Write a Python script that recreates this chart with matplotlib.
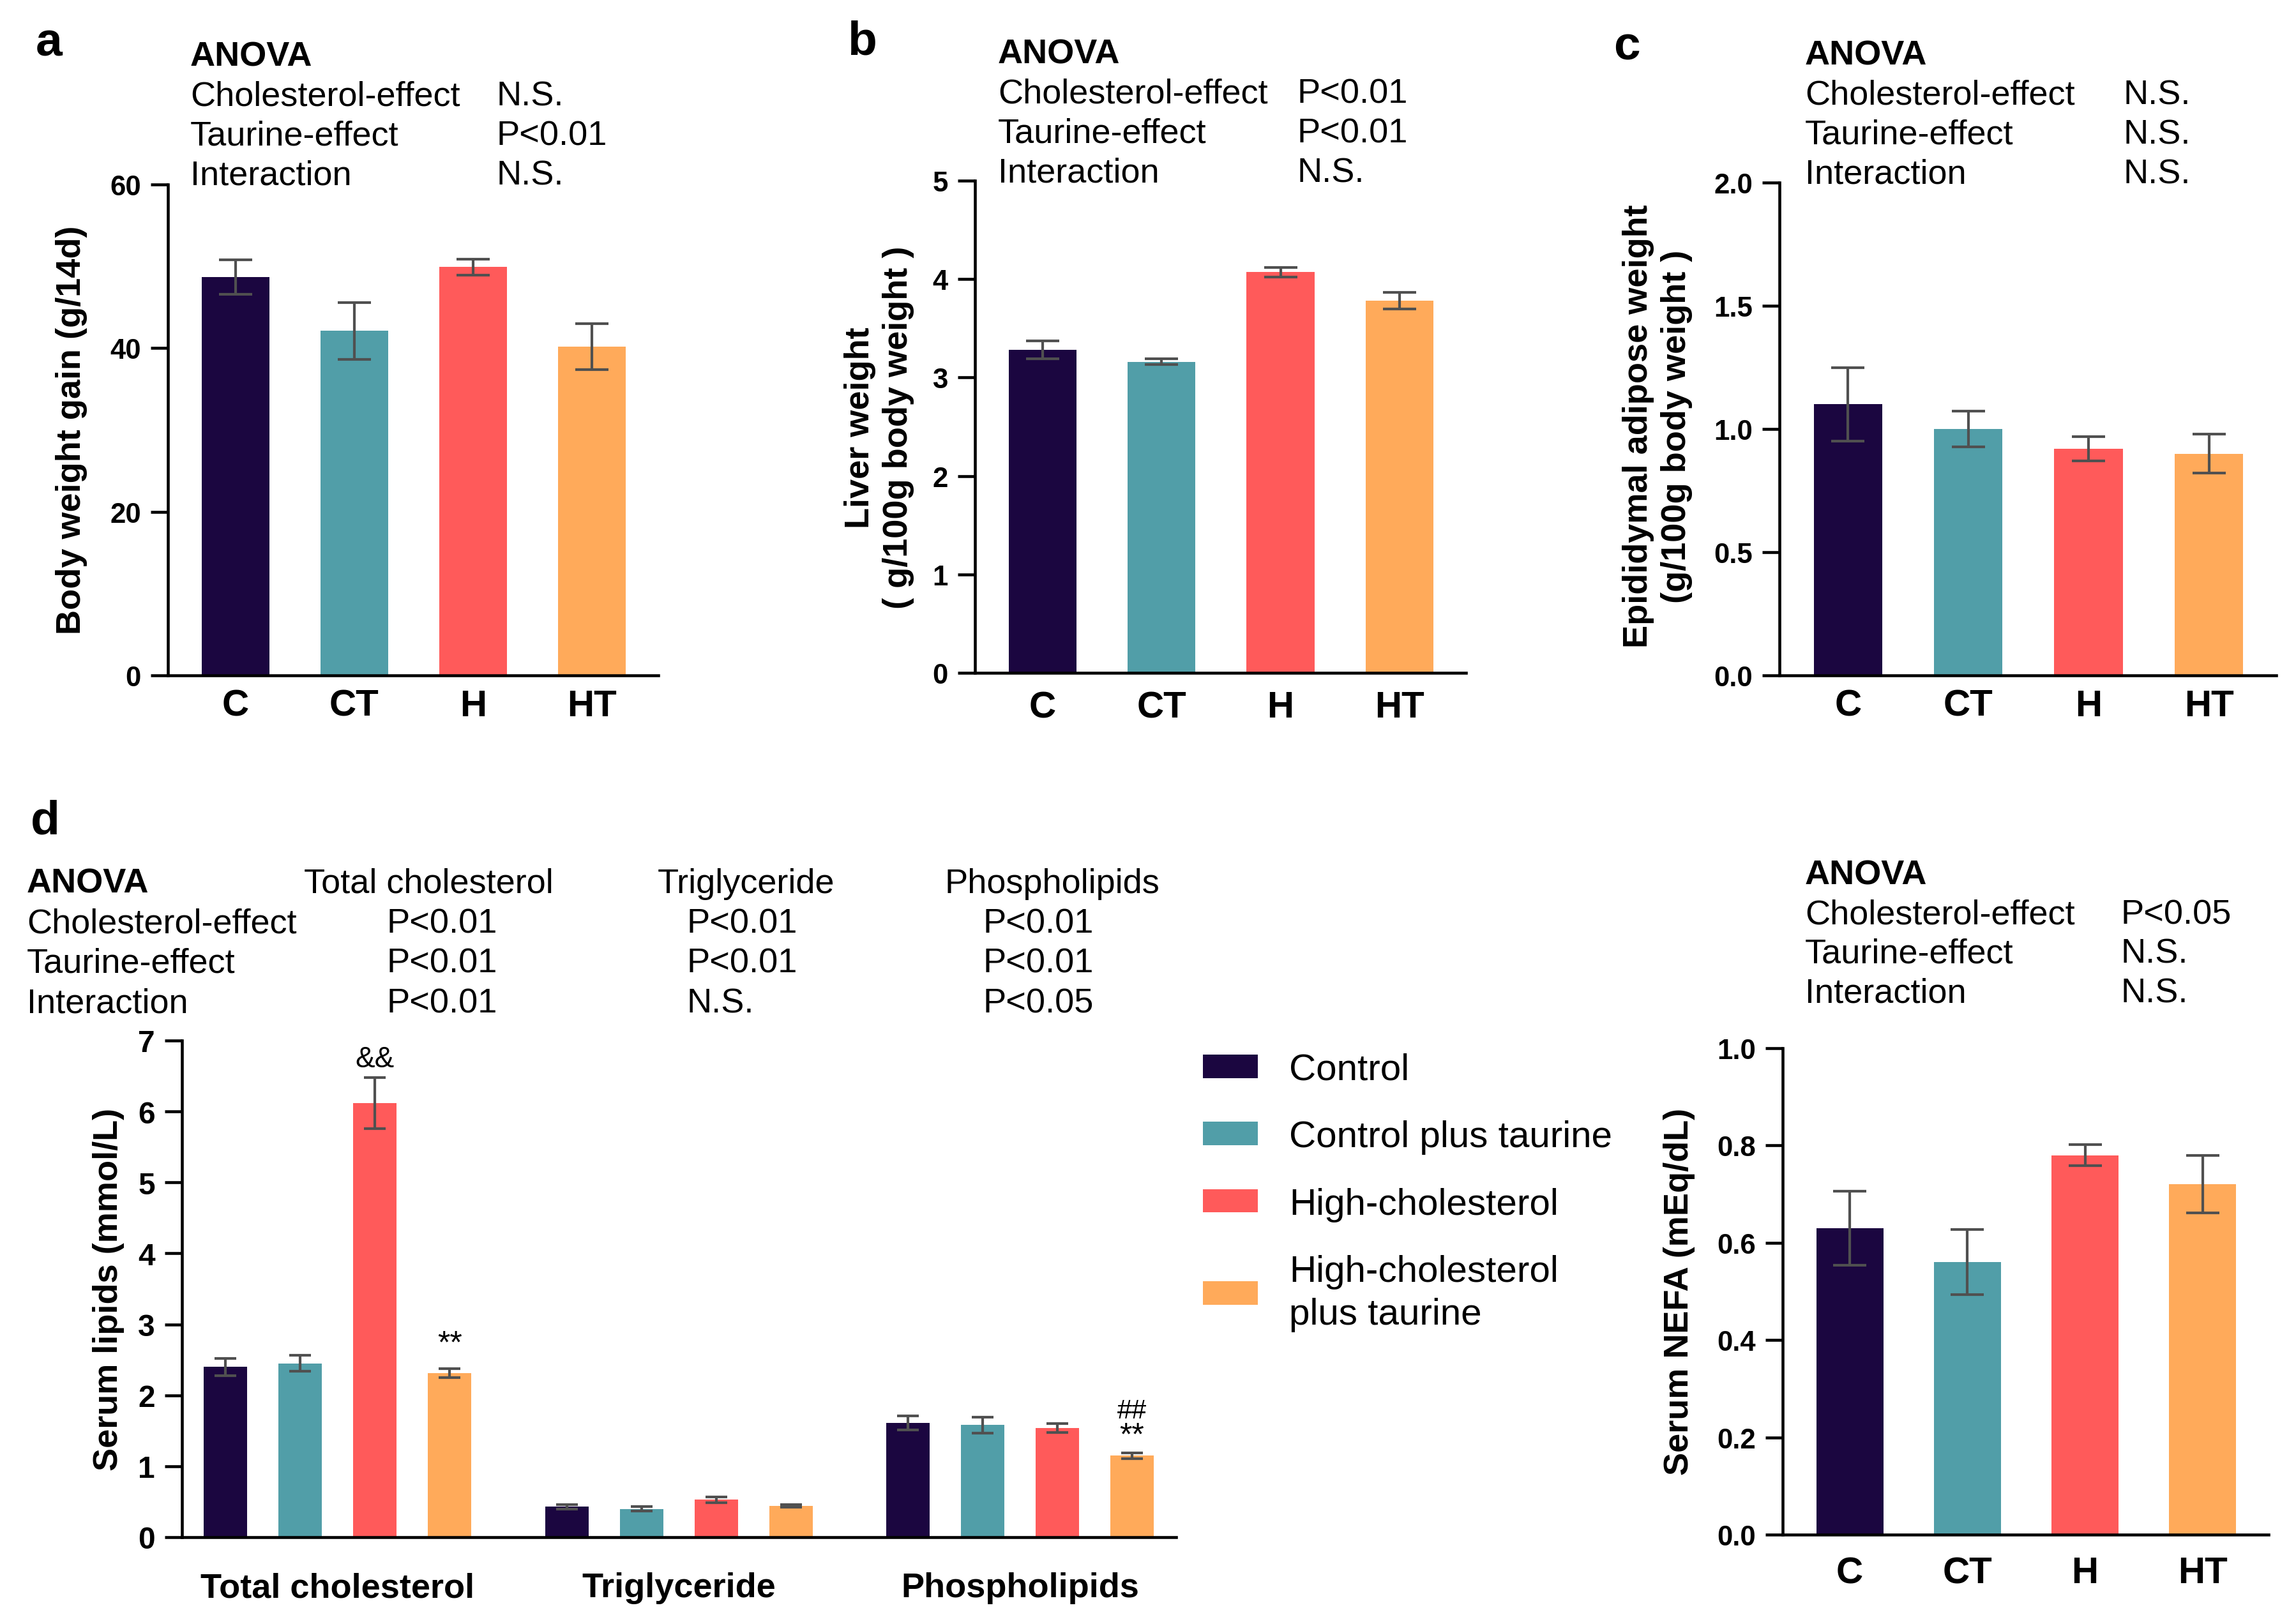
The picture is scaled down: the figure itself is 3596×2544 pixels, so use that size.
import matplotlib
matplotlib.use("Agg")
import matplotlib.pyplot as plt
from matplotlib.patches import Patch

plt.rcParams["font.family"] = ["Liberation Sans", "DejaVu Sans"]

W, H = 3596, 2545
DPI = 300

# data
groups = ["C", "CT", "H", "HT"]
colors = ["#1b0640", "#519ea8", "#ff5a5a", "#ffaa5a"]
legend_labels = ["Control", "Control plus taurine", "High-cholesterol",
                 "High-cholesterol\nplus taurine"]

bw_mean = [48.7, 42.1, 49.9, 40.2]
bw_err = [2.1, 3.5, 1.0, 2.8]

liver_mean = [3.28, 3.16, 4.07, 3.78]
liver_err = [0.09, 0.03, 0.05, 0.085]

adipose_mean = [1.10, 1.00, 0.92, 0.90]
adipose_err = [0.15, 0.073, 0.05, 0.08]

lipid_names = ["Total cholesterol", "Triglyceride", "Phospholipids"]
lipid_mean = [
    [2.40, 2.45, 6.12, 2.31],
    [0.43, 0.40, 0.53, 0.44],
    [1.61, 1.58, 1.54, 1.15],
]
lipid_err = [
    [0.12, 0.115, 0.36, 0.065],
    [0.03, 0.03, 0.04, 0.02],
    [0.10, 0.11, 0.06, 0.04],
]

nefa_mean = [0.63, 0.56, 0.78, 0.72]
nefa_err = [0.076, 0.067, 0.022, 0.059]

anova_rows = ["Cholesterol-effect", "Taurine-effect", "Interaction"]
anova_a = ["N.S.", "P<0.01", "N.S."]
anova_b = ["P<0.01", "P<0.01", "N.S."]
anova_c = ["N.S.", "N.S.", "N.S."]
anova_d = [["P<0.01", "P<0.01", "P<0.01"],
           ["P<0.01", "P<0.01", "N.S."],
           ["P<0.01", "P<0.01", "P<0.05"]]
anova_e = ["P<0.05", "N.S.", "N.S."]

fig = plt.figure(figsize=(W / DPI, H / DPI), dpi=DPI)


def fx(x):
    return x / W


def fy(y):
    return 1 - y / H


def make_ax(l, t, r, b, xpad=5):
    ax = fig.add_axes([fx(l), fy(b), (r - l) / W, (b - t) / H])
    for s in ["top", "right"]:
        ax.spines[s].set_visible(False)
    for s in ["left", "bottom"]:
        ax.spines[s].set_linewidth(1.1)
    ax.tick_params(axis="y", length=6.6, width=1.1, labelsize=10.5)
    ax.tick_params(axis="x", length=0, labelsize=14, pad=xpad)
    return ax


ERR = dict(ecolor="#505050", elinewidth=1.0, capthick=1.0)


def simple_bars(ax, means, errs, ymax, ticks, tickfmt):
    x = range(len(means))
    ax.bar(x, means, width=0.57, color=colors,
           yerr=errs, error_kw=dict(ERR, capsize=6.3))
    ax.set_xlim(-0.57, 3.56)
    ax.set_ylim(0, ymax)
    ax.set_yticks(ticks)
    ax.set_yticklabels([tickfmt.format(t) for t in ticks], fontweight="bold")
    ax.set_xticks(list(x))
    ax.set_xticklabels(groups, fontweight="bold", fontsize=14)


def anova_block(x0, x1, y0, values, dy=62):
    fig.text(fx(x0), fy(y0), "ANOVA", fontsize=13, fontweight="bold",
             va="baseline")
    for i, (r, v) in enumerate(zip(anova_rows, values)):
        fig.text(fx(x0), fy(y0 + dy * (i + 1)), r, fontsize=13, va="baseline")
        fig.text(fx(x1), fy(y0 + dy * (i + 1)), v, fontsize=13, va="baseline")


def panel_letter(x, y, s):
    fig.text(fx(x), fy(y), s, fontsize=18, fontweight="bold", va="baseline")


# panel a
ax_a = make_ax(263, 290, 1031, 1059)
simple_bars(ax_a, bw_mean, bw_err, 60, [0, 20, 40, 60], "{:d}")
fig.text(fx(112), fy(674), "Body weight gain (g/14d)", rotation=90,
         fontsize=13, fontweight="bold", ha="center", va="center")
panel_letter(56, 88, "a")
anova_block(298, 778, 103, anova_a)

# panel b
ax_b = make_ax(1527, 284, 2296, 1055, xpad=6.5)
simple_bars(ax_b, liver_mean, liver_err, 5, [0, 1, 2, 3, 4, 5], "{:d}")
fig.text(fx(1377), fy(670), "Liver weight\n( g/100g body weight )",
         rotation=90, fontsize=13, fontweight="bold", ha="center",
         va="center", linespacing=1.25)
panel_letter(1327, 85, "b")
anova_block(1563, 2032, 99, anova_b)

# panel c
ax_c = make_ax(2787, 287, 3565, 1059)
simple_bars(ax_c, adipose_mean, adipose_err, 2.0,
            [0.0, 0.5, 1.0, 1.5, 2.0], "{:.1f}")
fig.text(fx(2596), fy(668), "Epididymal adipose weight\n(g/100g body weight )",
         rotation=90, fontsize=13, fontweight="bold", ha="center",
         va="center", linespacing=1.25)
panel_letter(2527, 94, "c")
anova_block(2827, 3325, 101, anova_c)

# panel d
ax_d = make_ax(285, 1631, 1842, 2409)
gstep = 4.57
for j in range(4):
    xs = [g * gstep + j for g in range(3)]
    ax_d.bar(xs, [lipid_mean[g][j] for g in range(3)], width=0.58,
             color=colors[j], label=legend_labels[j],
             yerr=[lipid_err[g][j] for g in range(3)],
             error_kw=dict(ERR, capsize=4))
ax_d.set_xlim(-0.585, 2 * gstep + 3.59)
ax_d.set_ylim(0, 7)
ax_d.set_yticks(range(8))
ax_d.set_yticklabels([str(t) for t in range(8)], fontweight="bold",
                     fontsize=11.5)
ax_d.set_xticks([g * gstep + 1.5 for g in range(3)])
ax_d.set_xticklabels(lipid_names, fontweight="bold", fontsize=13)
ax_d.tick_params(axis="x", pad=13)
fig.text(fx(170), fy(2020), "Serum lipids (mmol/L)", rotation=90,
         fontsize=13, fontweight="bold", ha="center", va="center")

# significance marks
ax_d.text(2, 6.74, "&&", ha="center", va="center", fontsize=11)
ax_d.text(3, 2.72, "**", ha="center", va="center", fontsize=12)
ax_d.text(2 * gstep + 3, 1.43, "**", ha="center", va="center", fontsize=12)
ax_d.text(2 * gstep + 3, 1.78, "##", ha="center", va="center", fontsize=10)

panel_letter(48, 1307, "d")
fig.text(fx(42), fy(1399), "ANOVA", fontsize=13, fontweight="bold",
         va="baseline")
for k, (name, xh, xv) in enumerate(zip(lipid_names, [476, 1030, 1479],
                                       [606, 1076, 1539])):
    fig.text(fx(xh), fy(1399), name, fontsize=13, va="baseline")
    for i in range(3):
        fig.text(fx(xv), fy(1399 + 62.5 * (i + 1)), anova_d[k][i],
                 fontsize=13, va="baseline")
for i, r in enumerate(anova_rows):
    fig.text(fx(42), fy(1399 + 62.5 * (i + 1)), r, fontsize=13,
             va="baseline")

handles = [Patch(facecolor=c, edgecolor="none") for c in colors]
leg = fig.legend(handles, legend_labels, loc="upper left",
                 bbox_to_anchor=(fx(1884), fy(1650)), frameon=False,
                 fontsize=14, handlelength=1.48, handleheight=0.59,
                 handletextpad=0.83, labelspacing=0.88, borderpad=0,
                 borderaxespad=0)
for t in leg.get_texts():
    t.set_linespacing(1.3)

# panel e (NEFA)
ax_e = make_ax(2792, 1643, 3553, 2405, xpad=8)
simple_bars(ax_e, nefa_mean, nefa_err, 1.0,
            [0.0, 0.2, 0.4, 0.6, 0.8, 1.0], "{:.1f}")
fig.text(fx(2630), fy(2023), "Serum NEFA (mEq/dL)", rotation=90,
         fontsize=13, fontweight="bold", ha="center", va="center")
anova_block(2827, 3321, 1386, anova_e, dy=61.5)

fig.savefig("out.png", dpi=DPI)
